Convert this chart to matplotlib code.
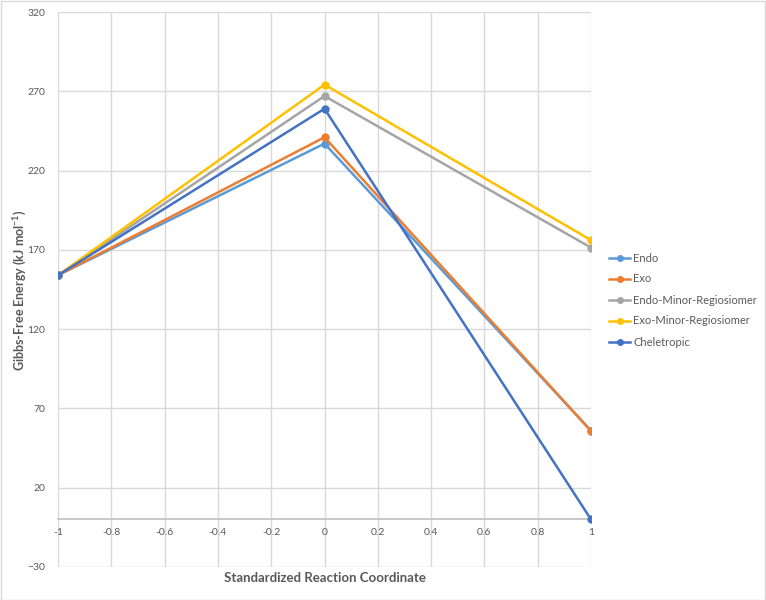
import matplotlib
matplotlib.use("Agg")
import matplotlib.pyplot as plt
from matplotlib.patches import Rectangle

x = [-1, 0, 1]
endo = [154, 237, 56]
exo = [154, 241, 55.7]
endo_minor = [154, 267, 171.4]
exo_minor = [154, 274.2, 176.1]
cheletropic = [154, 259, 0]
series_names = ["Endo", "Exo", "Endo-Minor-Regiosiomer", "Exo-Minor-Regiosiomer", "Cheletropic"]
series = [endo, exo, endo_minor, exo_minor, cheletropic]
colors = ["#5B9BD5", "#ED7D31", "#A5A5A5", "#FFC000", "#4472C4"]
xticks = [-1, -0.8, -0.6, -0.4, -0.2, 0, 0.2, 0.4, 0.6, 0.8, 1]
xticklabels = ["-1", "-0.8", "-0.6", "-0.4", "-0.2", "0", "0.2", "0.4", "0.6", "0.8", "1"]
yticks = [-30, 20, 70, 120, 170, 220, 270, 320]

plt.rcParams['font.family'] = ['Lato', 'DejaVu Sans']
txt = "#595959"

fig = plt.figure(figsize=(7.66, 6.0), dpi=100)
ax = fig.add_axes([58/766, 33/600, (591-58)/766, (567-12)/600])

for name, ys, c in zip(series_names, series, colors):
    ax.plot(x, ys, color=c, lw=1.8, marker="o", ms=5, label=name, zorder=3)

ax.set_xlim(-1, 1)
ax.set_ylim(-30, 320)
ax.set_xticks(xticks)
ax.set_xticklabels(xticklabels)
ax.set_yticks(yticks)
ax.grid(True, color="#D9D9D9", lw=1)
ax.set_axisbelow(True)
for s in ["left", "right", "top"]:
    ax.spines[s].set_visible(False)
ax.spines["bottom"].set_position(("data", 0))
ax.spines["bottom"].set_color("#BFBFBF")
ax.spines["bottom"].set_linewidth(1.2)
ax.tick_params(axis="both", length=0, labelsize=7.5, labelcolor=txt)
ax.tick_params(axis="y", pad=9)
ax.tick_params(axis="x", pad=6)

fig.text(325/766, 1 - 578/600, "Standardized Reaction Coordinate", ha="center", va="center",
         fontsize=9.5, fontweight="bold", color=txt)
fig.text(20/766, 1 - 290/600, "Gibbs-Free Energy (kJ mol$^{\\mathregular{-1}}$)", ha="center", va="center",
         rotation=90, fontsize=9, fontweight="bold", color=txt)

leg = ax.legend(loc="center left", bbox_to_anchor=(609/766, 1 - 300/600), bbox_transform=fig.transFigure,
                frameon=False, fontsize=8, labelcolor=txt, handlelength=1.9, handletextpad=0.3,
                labelspacing=0.9, markerscale=0.8, borderpad=0, borderaxespad=0)

fig.patches.append(Rectangle((0.5/766, 0.5/600), 1 - 1.5/766, 1 - 1.5/600, transform=fig.transFigure,
                             fill=False, edgecolor="#D9D9D9", lw=1))

fig.savefig("out.png", dpi=100, facecolor="white")
